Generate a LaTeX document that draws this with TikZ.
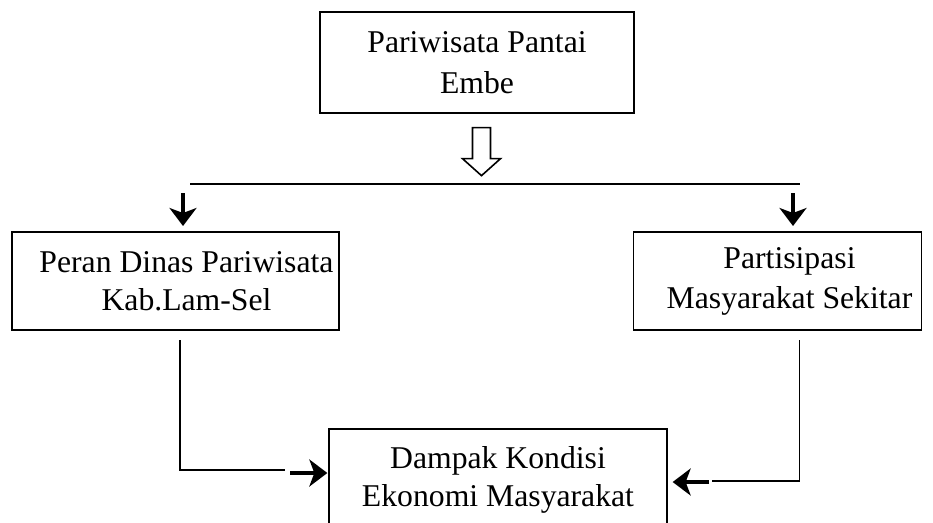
\documentclass[tikz,border=0pt]{standalone}
\usepackage{fontspec}
\setmainfont{Liberation Serif}
\usetikzlibrary{arrows.meta,calc}
\tikzset{
  box/.style={draw, line width=1.3pt, inner sep=0pt},
  txt/.style={inner sep=0pt, align=center, font=\fontsize{31.7}{38}\selectfont},
  conn/.style={line width=1.5pt},
  blackarrow/.style={line width=4.5pt, -{Stealth[length=18pt,width=27pt,inset=5pt]}},
  hollow/.style={draw, line width=1.6pt, fill=white, line join=miter},
}
\begin{document}
\begin{tikzpicture}[x=1pt,y=-1pt]
\useasboundingbox (0,0) rectangle (933,522);
\clip (0,0) rectangle (933,522);
\fill[white] (0,0) rectangle (933,522);

\node[box, minimum width=314pt, minimum height=101pt] (top) at (477,62.5) {};
\node[txt, font=\fontsize{31.7}{41}\selectfont] (topT) at (top.center) {Pariwisata Pantai\\Embe};

\node[box, minimum width=327pt, minimum height=98pt] (left) at (175.5,281) {};
\node[txt] (leftT) at ($(left.center)+(11,0)$) {Peran Dinas Pariwisata\\Kab.Lam-Sel};

\node[box, minimum width=288pt, minimum height=98pt] (right) at (777.5,281) {};
\node[txt, font=\fontsize{31.7}{40}\selectfont] (rightT) at ($(right.center)+(12,0)$) {Partisipasi\\Masyarakat Sekitar};

\node[box, minimum width=338pt, minimum height=102pt] (bottom) at (498,480) {};
\node[txt] (bottomT) at (bottom.center) {Dampak Kondisi\\Ekonomi Masyarakat};

% hollow arrow below the top box
\coordinate (ha) at ($(top.south)+(4.5,14)$);
\draw[hollow] ($(ha)+(-9,0)$) -- ($(ha)+(9,0)$) -- ($(ha)+(9,31)$) -- ($(ha)+(19,31)$)
  -- ($(ha)+(0,48)$) -- ($(ha)+(-19,31)$) -- ($(ha)+(-9,31)$) -- cycle;

% distribution bar
\coordinate (barL) at (190,184);
\coordinate (barR) at (800,184);
\draw[conn] (barL) -- (barR);

% small black arrows into the two middle boxes
\coordinate (aL) at (183,193);
\coordinate (aR) at (793,193);
\draw[blackarrow] (aL) -- (aL |- 0,226);
\draw[blackarrow] (aR) -- (aR |- 0,226);

% left elbow connector
\coordinate (lv) at (180,340);
\coordinate (lh) at (285,470);
\draw[conn] (lv) |- (lh);
\coordinate (la) at (290,473);
\draw[blackarrow] (la) -- ($(bottom.west |- la)+(-1,0)$);

% right elbow connector
\coordinate (rv) at (799.5,340);
\coordinate (rh) at (712,481);
\draw[conn] (rv) |- (rh);
\coordinate (ra) at (709,482);
\draw[blackarrow] (ra) -- ($(bottom.east |- ra)+(5,0)$);
\end{tikzpicture}
\end{document}
